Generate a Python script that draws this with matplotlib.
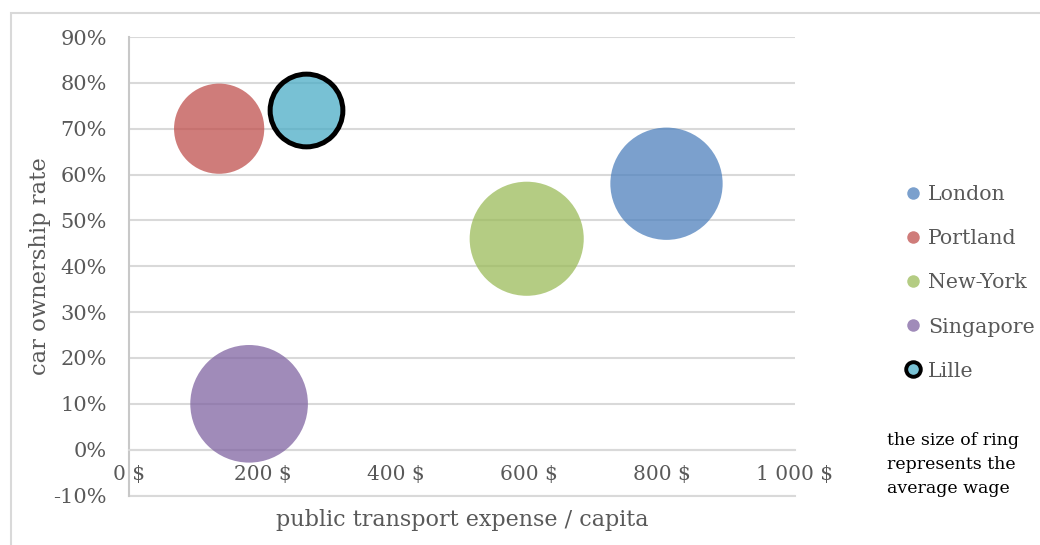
import matplotlib
matplotlib.use("Agg")
import matplotlib.pyplot as plt
from matplotlib.colors import to_rgba
from matplotlib.lines import Line2D
from matplotlib.patches import Rectangle
from matplotlib.ticker import FuncFormatter

cities = ["London", "Portland", "New-York", "Singapore", "Lille"]
expense = [807, 135, 597, 180, 266]        # public transport $ / capita
car_rate = [58, 70, 46, 10, 74]            # car ownership, %
wage = [3100, 2000, 3200, 3400, 1300]      # average wage -> bubble area
colors = ["#4F81BD", "#C0504D", "#9BBB59", "#8064A2", "#4BACC6"]

grey_txt = "#595959"
grid_c = "#D9D9D9"

plt.rcParams['font.family'] = ['DejaVu Serif']

fig = plt.figure(figsize=(10.4, 5.45), dpi=100)
ax = fig.add_axes([0.1243, 0.0908, 0.6401, 0.8413])

# bubble area proportional to wage, biggest bubble ~84pt across
big = 7170
for i, city in enumerate(cities):
    s = big * wage[i] / max(wage)
    if city == "Lille":
        ax.scatter(expense[i], car_rate[i], s=s, facecolor=to_rgba(colors[i], 0.75),
                   edgecolor="black", linewidth=3.6, zorder=3)
    else:
        ax.scatter(expense[i], car_rate[i], s=s, facecolor=to_rgba(colors[i], 0.75),
                   edgecolor="none", zorder=3)

ax.set_xlim(0, 1000)
ax.set_ylim(-10, 90)
ax.set_xticks(range(0, 1001, 200))
ax.set_yticks(range(-10, 91, 10))
ax.xaxis.set_major_formatter(FuncFormatter(lambda v, p: f"{int(v):,}".replace(",", " ") + " $"))
ax.yaxis.set_major_formatter(FuncFormatter(lambda v, p: f"{int(v)}%"))
ax.tick_params(axis="x", length=0, pad=11, labelsize=14.5, labelcolor=grey_txt)
ax.tick_params(axis="y", length=0, pad=16, labelsize=15, labelcolor=grey_txt)

ax.set_axisbelow(True)
ax.yaxis.grid(True, color=grid_c, linewidth=1.5)
for side in ["top", "right"]:
    ax.spines[side].set_visible(False)
ax.spines["left"].set_color("#C8C8C8")
ax.spines["left"].set_linewidth(1.5)
# horizontal axis crosses at 0 %
ax.spines["bottom"].set_position(("data", 0))
ax.spines["bottom"].set_color(grid_c)
ax.spines["bottom"].set_linewidth(1.5)
ax.axhline(-10, color=grid_c, linewidth=1.5, clip_on=False, zorder=1)

ax.set_xlabel("public transport expense / capita", fontsize=16, color=grey_txt)
ax.xaxis.label.set_va("center")
ax.xaxis.set_label_coords(0.5, -0.053)
ax.set_ylabel("car ownership rate", fontsize=16.3, color=grey_txt)
ax.yaxis.label.set_va("center")
ax.yaxis.set_label_coords(-0.134, 0.5)

handles = []
for i, city in enumerate(cities):
    if city == "Lille":
        h = Line2D([], [], linestyle="none", marker="o", markersize=10.5,
                   markerfacecolor=to_rgba(colors[i], 0.75), markeredgecolor="black",
                   markeredgewidth=2.8, label=city)
    else:
        h = Line2D([], [], linestyle="none", marker="o", markersize=9,
                   markerfacecolor=to_rgba(colors[i], 0.75), markeredgecolor="none",
                   label=city)
    handles.append(h)

fig.legend(handles=handles, loc="center left", bbox_to_anchor=(907 / 1040, 1 - 283 / 545),
           frameon=False, fontsize=14.8, labelcolor=grey_txt, handlelength=0.6,
           handletextpad=0.42, labelspacing=1.22, borderpad=0, borderaxespad=0)

fig.text(887 / 1040, 1 - 432 / 545, "the size of ring\nrepresents the\naverage wage",
         fontsize=12.5, color="black", va="top", ha="left", linespacing=1.55)

# light outer chart border
fig.add_artist(Rectangle((0.0106, -0.5), 2, 1.476, transform=fig.transFigure,
                         fill=False, edgecolor=grid_c, linewidth=1.5))

fig.savefig("out.png", dpi=100)
